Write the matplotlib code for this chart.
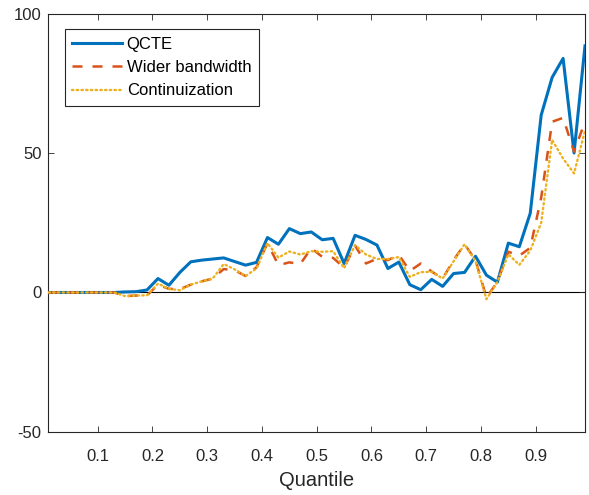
import matplotlib
matplotlib.use("Agg")
import matplotlib.pyplot as plt
import numpy as np

# quantile grid 0.01, 0.03, ..., 0.99
quantiles = np.round(np.arange(0.01, 1.0, 0.02), 2)

qcte = [0, 0, 0, 0, 0, 0, 0,
        0.2, 0.3, 0.9, 5.0, 2.6, 7.2, 11.0, 11.6, 12.0, 12.4, 11.1, 9.8, 10.8,
        19.7, 17.3, 22.9, 21.1, 21.7, 18.9, 19.4, 10.4, 20.5, 19.0,
        17.0, 8.6, 10.9, 2.8, 1.0, 4.7, 2.2, 6.8, 7.2, 13.0,
        6.2, 3.7, 17.7, 16.4, 28.4, 63.6, 77.1, 83.9, 50.0, 88.4]

wider_bw = [0, 0, 0, 0, 0, 0, 0,
            -1.3, -1.1, -1.0, 2.8, 1.3, 1.2, 2.8, 4.0, 5.0, 8.4, 8.0, 5.9, 9.0,
            17.7, 9.8, 10.8, 10.2, 15.9, 12.8, 12.4, 8.9, 16.8, 10.4,
            12.1, 11.6, 13.5, 7.7, 10.4, 7.5, 5.0, 11.6, 17.3, 11.6,
            -1.8, 3.8, 14.6, 13.2, 16.0, 34.0, 61.2, 62.6, 50.5, 61.2]

continuization = [0, 0, 0, 0, 0, 0, 0,
                  -1.3, -1.1, -1.0, 3.2, 1.3, 0.8, 2.8, 4.0, 5.0, 10.2, 8.3, 5.9, 8.6,
                  17.7, 12.5, 14.7, 13.6, 14.8, 14.6, 14.8, 8.7, 17.0, 13.6,
                  12.0, 12.0, 12.7, 5.6, 7.3, 7.4, 5.0, 11.2, 17.3, 11.2,
                  -2.4, 3.8, 13.7, 9.9, 15.0, 25.0, 54.7, 48.0, 42.7, 58.0]

xticks = [0.1, 0.2, 0.3, 0.4, 0.5, 0.6, 0.7, 0.8, 0.9]
yticks = [-50, 0, 50, 100]

BLUE = "#0072BD"
ORANGE = "#D95319"
YELLOW = "#EDB120"
AXCOL = "#262626"

plt.rcParams.update({
    "font.family": ["Liberation Sans", "DejaVu Sans"],
    "font.size": 12,
})

fig = plt.figure(figsize=(5.89, 4.95), dpi=100)
ax = fig.add_axes([0.0823, 0.1273, 0.9109, 0.8454])

ax.axhline(0, color="black", lw=0.8, zorder=1)
ax.plot(quantiles, qcte, color=BLUE, lw=2.2, label="QCTE", zorder=3)
ax.plot(quantiles, wider_bw, color=ORANGE, lw=1.8, dashes=(4, 4),
        label="Wider bandwidth", zorder=4)
ax.plot(quantiles, continuization, color=YELLOW, lw=1.7,
        linestyle=(0, (0.6, 1.4)), dash_capstyle="round",
        label="Continuization", zorder=5)

ax.set_xlim(0.01, 0.99)
ax.set_ylim(-50, 100)
ax.set_xticks(xticks)
ax.set_xticklabels([f"{t:.1f}" for t in xticks])
ax.set_yticks(yticks)
ax.set_yticklabels([str(t) for t in yticks])

for s in ax.spines.values():
    s.set_color(AXCOL)
    s.set_linewidth(0.8)
ax.tick_params(direction="in", length=4, width=0.6, color=AXCOL,
               top=True, right=True, labelsize=12, labelcolor=AXCOL)
ax.tick_params(axis="x", pad=12)
ax.tick_params(axis="y", pad=5)

ax.set_xlabel("Quantile", fontsize=14.5, color=AXCOL, labelpad=5)

leg = ax.legend(loc="upper left", bbox_to_anchor=(0.0308, 0.9623),
                borderaxespad=0, fontsize=12, handlelength=3.0,
                handletextpad=0.25, labelspacing=0.5, borderpad=0.45,
                fancybox=False, framealpha=1)
leg.get_frame().set_edgecolor(AXCOL)
leg.get_frame().set_linewidth(0.8)

fig.savefig("out.png", dpi=100)
